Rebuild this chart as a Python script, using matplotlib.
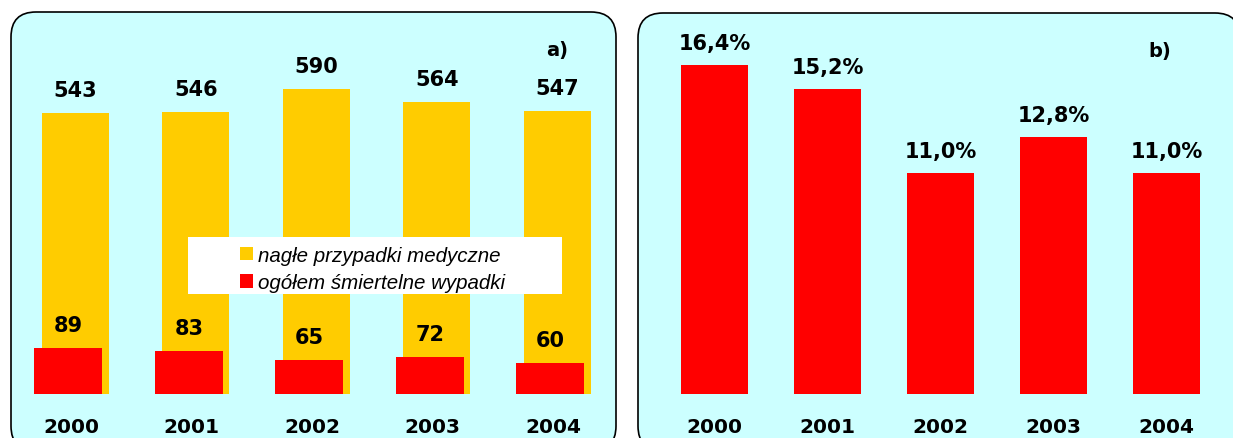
import matplotlib.pyplot as plt
from matplotlib.patches import FancyBboxPatch, Rectangle, Patch
from matplotlib.transforms import IdentityTransform

# data
years = ['2000', '2001', '2002', '2003', '2004']
medical = [543, 546, 590, 564, 547]      # nagłe przypadki medyczne
fatal = [89, 83, 65, 72, 60]             # ogółem śmiertelne wypadki
share = [16.4, 15.2, 11.0, 12.8, 11.0]   # % share
share_labels = ['16,4%', '15,2%', '11,0%', '12,8%', '11,0%']

W, H = 1233, 439
yellow = '#FFCC00'
red = '#FF0000'
cyan = '#CCFFFF'

fig = plt.figure(figsize=(W / 100, H / 100), dpi=100)


def px_rect(x0, y0, x1, y1):
    # pixel box measured from top-left -> figure fraction rect
    return [x0 / W, 1 - y1 / H, (x1 - x0) / W, (y1 - y0) / H]


def panel(x0, y0, x1, y1):
    box = FancyBboxPatch((x0, H - y1), x1 - x0, y1 - y0,
                         boxstyle='round,pad=0,rounding_size=25',
                         transform=IdentityTransform(), fc=cyan, ec='black',
                         lw=1.2, zorder=-1)
    fig.add_artist(box)


panel(11, 13, 616, 452)
panel(638, 14, 1240, 452)

label_font = dict(fontsize=15, fontweight='bold', family='DejaVu Sans')
year_font = dict(fontsize=14.5, fontweight='bold', family='DejaVu Sans')

# ---- panel a)
ax1 = fig.add_axes(px_rect(10.75, 14, 613.25, 395))
ax1.set_xlim(-0.5, 4.5)
ax1.set_ylim(0, 381 * 1.933)
ax1.axis('off')
x = list(range(len(years)))
xy = [i + 0.037 for i in x]
xr = [i - 0.022 for i in x]
ax1.bar(xy, medical, width=0.556, color=yellow, zorder=2)
ax1.bar(xr, fatal, width=0.564, color=red, zorder=3)
for i in x:
    ax1.annotate(str(medical[i]), (xy[i], medical[i]), xytext=(0, 12.2),
                 textcoords='offset points', ha='center', va='baseline', **label_font)
    ax1.annotate(str(fatal[i]), (xr[i], fatal[i]), xytext=(0, 12.2),
                 textcoords='offset points', ha='center', va='baseline', zorder=4, **label_font)
    ax1.annotate(years[i], (i, 0), xycoords=('data', 'axes fraction'), xytext=(0, -27.4),
                 textcoords='offset points', ha='center', va='baseline', **year_font)

# ---- panel b)
ax2 = fig.add_axes(px_rect(658, 14, 1223, 395))
ax2.set_xlim(-0.5, 4.5)
ax2.set_ylim(0, 381 / 20.05)
ax2.axis('off')
ax2.bar(x, share, width=0.6, color=red, zorder=2)
for i in x:
    ax2.annotate(share_labels[i], (i, share[i]), xytext=(0, 11.5),
                 textcoords='offset points', ha='center', va='baseline', **label_font)
    ax2.annotate(years[i], (i, 0), xycoords=('data', 'axes fraction'), xytext=(0, -27.4),
                 textcoords='offset points', ha='center', va='baseline', **year_font)

fig.text(557 / W, 1 - 56 / H, 'a)', ha='center', va='baseline', fontsize=14, fontweight='bold')
fig.text(1160 / W, 1 - 57 / H, 'b)', ha='center', va='baseline', fontsize=14, fontweight='bold')

# legend with white background box
fig.add_artist(Rectangle((188, H - 295), 374, 57, transform=IdentityTransform(),
                         fc='white', ec='none', zorder=4))
fs = 14.8
fs_px = fs * 100 / 72
handles = [Patch(fc=yellow, ec='none'), Patch(fc=red, ec='none')]
fig.legend(handles, ['nagłe przypadki medyczne', 'ogółem śmiertelne wypadki'],
           loc='center left', bbox_to_anchor=(240 / W, 1 - 270 / H), frameon=False,
           borderpad=0, borderaxespad=0, handlelength=13 / fs_px, handleheight=13 / fs_px,
           handletextpad=5 / fs_px, labelspacing=0.4,
           prop=dict(family='Liberation Sans', style='italic', size=fs))

fig.savefig('out.png', dpi=100)
